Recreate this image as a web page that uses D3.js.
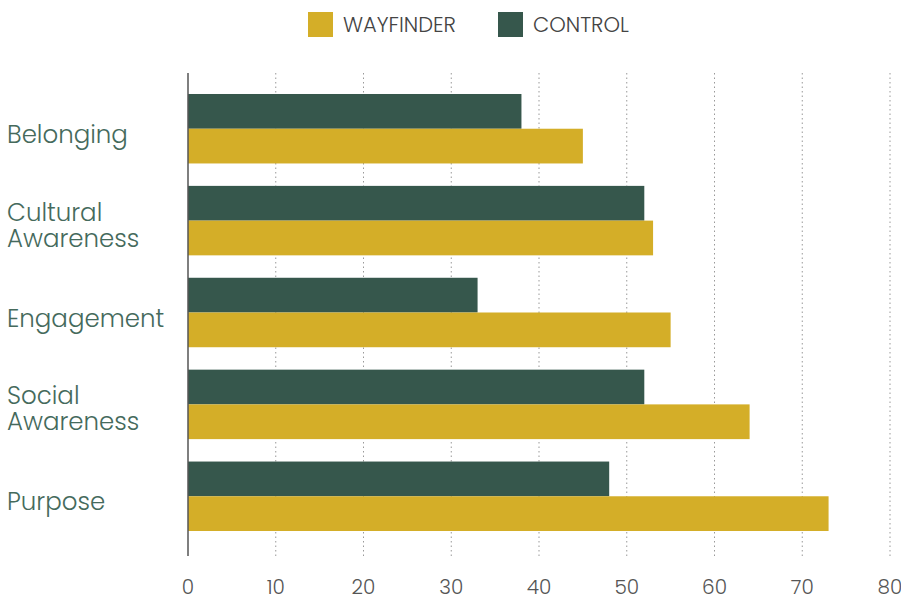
<!DOCTYPE html>
<html>
<head>
<meta charset="utf-8">
<script src="https://cdn.jsdelivr.net/npm/d3@7"></script>
<style>
	body { margin: 0; background: #fff; }
	svg text { font-family: "Poppins", "Open Sans", "Noto Sans", sans-serif; font-weight: 300; }
</style>
</head>
<body>
<div id="chart"></div>
<script>
const categories = ["Belonging", "Cultural Awareness", "Engagement", "Social Awareness", "Purpose"];
const seriesNames = ["CONTROL", "WAYFINDER"];
const control = [38, 52, 33, 52, 48];
const wayfinder = [45, 53, 55, 64, 73];
const xTicks = [0, 10, 20, 30, 40, 50, 60, 70, 80];

const colors = { WAYFINDER: "#d4ae28", CONTROL: "#36574c" };

const width = 901, height = 600;
const margin = { top: 73, right: 11, bottom: 44, left: 188 };
const innerW = width - margin.left - margin.right;
const innerH = height - margin.top - margin.bottom;

const svg = d3.select("#chart").append("svg")
	.attr("width", width)
	.attr("height", height);

const g = svg.append("g")
	.attr("transform", `translate(${margin.left},${margin.top})`);

const x = d3.scaleLinear().domain([0, 80]).range([0, innerW]);
const y = d3.scaleBand().domain(categories).range([0, innerH - 4]).paddingInner(0.244).paddingOuter(0.2285);
const ySub = d3.scaleBand().domain(seriesNames).range([0, y.bandwidth()]);

// dotted grid lines
g.selectAll("line.grid").data(xTicks.slice(1)).enter()
	.append("line")
	.attr("class", "grid")
	.attr("x1", d => x(d)).attr("x2", d => x(d))
	.attr("y1", 0).attr("y2", innerH)
	.attr("stroke", "#999")
	.attr("stroke-width", 1)
	.attr("stroke-dasharray", "1.5,3");

// bars
const rows = categories.map((c, i) => ({ cat: c, CONTROL: control[i], WAYFINDER: wayfinder[i] }));
const grp = g.selectAll("g.cat").data(rows).enter()
	.append("g")
	.attr("class", "cat")
	.attr("transform", d => `translate(0,${y(d.cat)})`);

grp.selectAll("rect").data(d => seriesNames.map(s => ({ s, v: d[s] }))).enter()
	.append("rect")
	.attr("x", 0)
	.attr("y", d => ySub(d.s))
	.attr("width", d => x(d.v))
	.attr("height", ySub.bandwidth())
	.attr("fill", d => colors[d.s]);

// y axis line
g.append("line")
	.attr("x1", 0).attr("x2", 0)
	.attr("y1", 0).attr("y2", innerH)
	.attr("stroke", "#555")
	.attr("stroke-width", 1.5);

// x tick labels
g.selectAll("text.xt").data(xTicks).enter()
	.append("text")
	.attr("class", "xt")
	.attr("x", d => x(d))
	.attr("y", innerH + 38)
	.attr("text-anchor", "middle")
	.attr("font-size", 20)
	.attr("fill", "#555")
	.text(d => d);

// category labels
const labelLines = { "Cultural Awareness": ["Cultural", "Awareness"], "Social Awareness": ["Social", "Awareness"] };
g.selectAll("text.cat").data(categories).enter()
	.append("text")
	.attr("class", "cat")
	.attr("x", -181)
	.attr("y", d => y(d) + y.bandwidth() / 2)
	.attr("font-size", 24.5)
	.attr("fill", "#456a5c")
	.each(function (d) {
		const lines = labelLines[d] || [d];
		const t = d3.select(this);
		lines.forEach((l, i) => {
			t.append("tspan")
				.attr("x", -181)
				.attr("dy", i === 0 ? (lines.length === 1 ? 14 : 0) : 26)
				.text(l);
		});
	});

// legend
const legendItems = ["WAYFINDER", "CONTROL"];
const legendX = [308, 498];
const leg = svg.selectAll("g.legend").data(legendItems).enter()
	.append("g")
	.attr("class", "legend")
	.attr("transform", (d, i) => `translate(${legendX[i]},12)`);
leg.append("rect")
	.attr("width", 25).attr("height", 25)
	.attr("fill", d => colors[d]);
leg.append("text")
	.attr("x", 35).attr("y", 20)
	.attr("font-size", 21)
	.attr("fill", "#444")
	.text(d => d);
</script>
</body>
</html>
